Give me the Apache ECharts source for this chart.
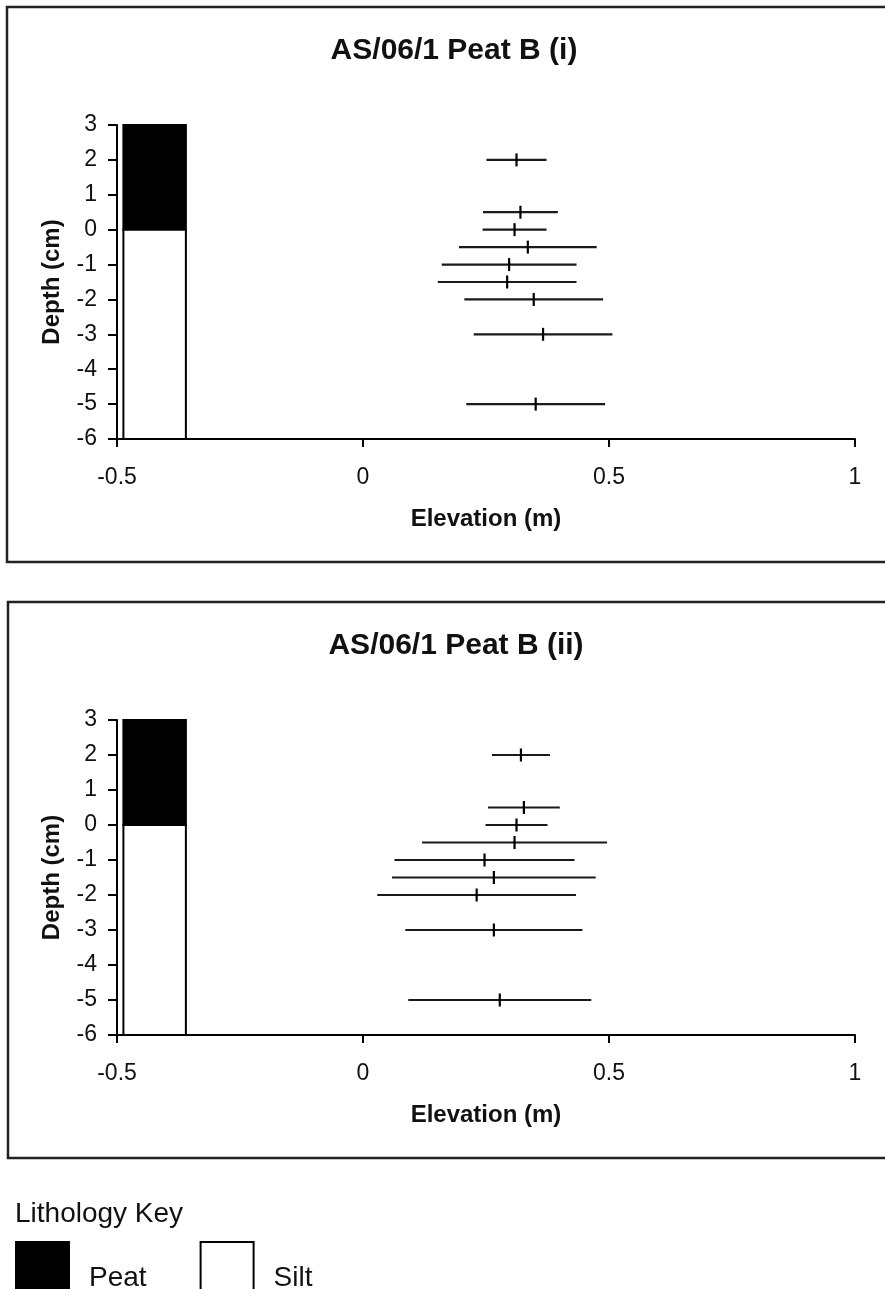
<!DOCTYPE html>
<html><head><meta charset="utf-8">
<script src="https://cdn.jsdelivr.net/npm/echarts@6/dist/echarts.min.js"></script>
<style>html,body{margin:0;padding:0;background:#fff}#c{width:885px;height:1289px}</style>
</head><body><div id="c"></div>
<script>
// ---- data ----
const chartTitles = ['AS/06/1 Peat B (i)', 'AS/06/1 Peat B (ii)'];
const depths = [2, 0.5, 0, -0.5, -1, -1.5, -2, -3, -5];
const elevA = [0.312, 0.320, 0.308, 0.335, 0.297, 0.293, 0.347, 0.366, 0.351];
const errA  = [0.061, 0.076, 0.065, 0.140, 0.137, 0.141, 0.141, 0.141, 0.141];
const elevB = [0.321, 0.327, 0.312, 0.308, 0.247, 0.266, 0.231, 0.266, 0.278];
const errB  = [0.059, 0.073, 0.063, 0.188, 0.183, 0.207, 0.202, 0.180, 0.186];
const lithNames  = ['Peat', 'Silt'];
const lithTop    = [3, 0];
const lithBottom = [0, -6];
const lithFill   = ['#000000', '#ffffff'];
const keyTitle = 'Lithology Key';
const xAxisName = 'Elevation (m)';
const yAxisName = 'Depth (cm)';

// column extent in elevation units (layout)
const COL_LEFT = -0.487, COL_RIGHT = -0.360;
const FONT = '"Liberation Sans", Arial, Helvetica, sans-serif';

const chart = echarts.init(document.getElementById('c'), null, {renderer: 'canvas'});

const grids = [
  {left: 117, width: 738, top: 125, height: 314},
  {left: 117, width: 738, top: 720, height: 315}
];

function xAxisCfg(i) {
  return {
    type: 'value', gridIndex: i, min: -0.5, max: 1, interval: 0.5,
    name: xAxisName, nameLocation: 'middle', nameGap: 68,
    nameTextStyle: {fontFamily: FONT, fontSize: 24, fontWeight: 'bold', color: '#111'},
    axisLine: {show: true, onZero: false, lineStyle: {color: '#000', width: 2}},
    axisTick: {show: true, inside: false, length: 8, lineStyle: {color: '#000', width: 2}},
    axisLabel: {fontFamily: FONT, fontSize: 23, color: '#111', margin: 27},
    splitLine: {show: false}
  };
}
function yAxisCfg(i) {
  return {
    type: 'value', gridIndex: i, min: -6, max: 3, interval: 1,
    name: yAxisName, nameLocation: 'middle', nameGap: 53, nameRotate: 90,
    nameTextStyle: {fontFamily: FONT, fontSize: 24, fontWeight: 'bold', color: '#111'},
    axisLine: {show: true, onZero: false, lineStyle: {color: '#000', width: 2}},
    axisTick: {show: true, inside: false, length: 9, lineStyle: {color: '#000', width: 2}},
    axisLabel: {fontFamily: FONT, fontSize: 23, color: '#111', margin: 20},
    splitLine: {show: false}
  };
}

function errSeries(i, elev, err) {
  return {
    type: 'custom', xAxisIndex: i, yAxisIndex: i, name: 'err' + i,
    data: depths.map((d, k) => [elev[k], d, err[k]]),
    encode: {x: 0, y: 1},
    renderItem: function (params, api) {
      const c = api.value(0), d = api.value(1), e = api.value(2);
      const p0 = api.coord([c - e, d]), p1 = api.coord([c + e, d]), pc = api.coord([c, d]);
      return {type: 'group', children: [
        {type: 'line', shape: {x1: p0[0], y1: p0[1], x2: p1[0], y2: p1[1]}, style: {stroke: '#1a1a1a', lineWidth: 2.2}},
        {type: 'line', shape: {x1: pc[0], y1: pc[1] - 6.5, x2: pc[0], y2: pc[1] + 6.5}, style: {stroke: '#000', lineWidth: 2.2}}
      ]};
    },
    z: 5
  };
}

function lithSeries(i, k) {
  return {
    type: 'custom', xAxisIndex: i, yAxisIndex: i, name: lithNames[k],
    itemStyle: {color: lithFill[k], borderColor: '#000', borderWidth: 2},
    data: [[lithTop[k], lithBottom[k]]],
    renderItem: function (params, api) {
      const a = api.coord([COL_LEFT, api.value(0)]);
      const b = api.coord([COL_RIGHT, api.value(1)]);
      return {type: 'rect', shape: {x: a[0], y: a[1], width: b[0] - a[0], height: b[1] - a[1]},
        style: {fill: lithFill[k], stroke: '#000', lineWidth: 2}};
    },
    z: 3
  };
}

const series = [];
[0, 1].forEach(i => { lithNames.forEach((n, k) => series.push(lithSeries(i, k))); });
series.push(errSeries(0, elevA, errA));
series.push(errSeries(1, elevB, errB));

const option = {
  backgroundColor: '#fff',
  animation: false,
  title: [
    {text: chartTitles[0], left: 454, top: 36, textAlign: 'center', padding: 0,
     textStyle: {fontFamily: FONT, fontSize: 30, fontWeight: 'bold', color: '#111'}},
    {text: chartTitles[1], left: 456, top: 631, textAlign: 'center', padding: 0,
     textStyle: {fontFamily: FONT, fontSize: 30, fontWeight: 'bold', color: '#111'}},
    {text: keyTitle, left: 15, top: 1200, padding: 0,
     textStyle: {fontFamily: FONT, fontSize: 28, fontWeight: 'normal', color: '#111'}}
  ],
  legend: {
    left: 15, top: 1241, orient: 'horizontal', itemWidth: 53, itemHeight: 72, itemGap: 53,
    padding: 0, selectedMode: false,
    data: [
      {name: lithNames[0], icon: 'rect', itemStyle: {color: lithFill[0], borderColor: '#000', borderWidth: 2}},
      {name: lithNames[1], icon: 'rect', itemStyle: {color: lithFill[1], borderColor: '#000', borderWidth: 2}}
    ],
    textStyle: {fontFamily: FONT, fontSize: 28, color: '#111', padding: [0, 0, 0, 15]}
  },
  grid: grids,
  xAxis: [xAxisCfg(0), xAxisCfg(1)],
  yAxis: [yAxisCfg(0), yAxisCfg(1)],
  graphic: [
    {type: 'rect', shape: {x: 7, y: 7, width: 890, height: 555}, style: {fill: 'none', stroke: '#222', lineWidth: 2.5}, silent: true},
    {type: 'rect', shape: {x: 8, y: 602, width: 890, height: 556}, style: {fill: 'none', stroke: '#222', lineWidth: 2.5}, silent: true}
  ],
  series: series
};
chart.setOption(option);
</script>
</body></html>
